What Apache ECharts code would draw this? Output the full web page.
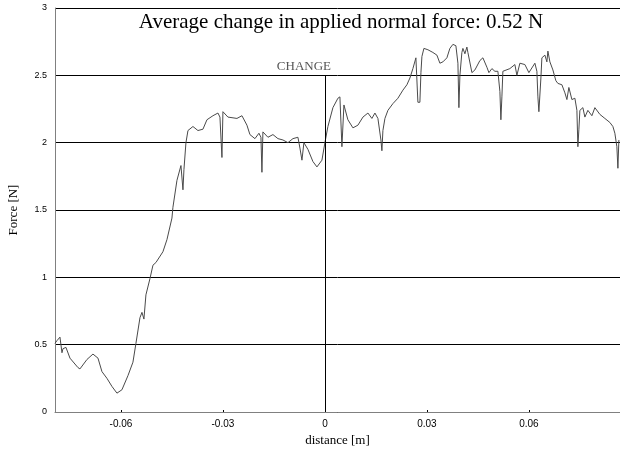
<!DOCTYPE html>
<html>
<head>
<meta charset="utf-8">
<script src="https://cdn.jsdelivr.net/npm/echarts@6/dist/echarts.min.js"></script>
<style>html,body{margin:0;padding:0;background:#fff}#c{width:620px;height:450px}</style>
</head>
<body>
<div id="c"></div>
<script>
var distance = [-0.07941,-0.07882,-0.07794,-0.07735,-0.07706,-0.07618,-0.07500,-0.07265,-0.07206,-0.07000,
-0.06824,-0.06676,-0.06559,-0.06412,-0.06265,-0.06118,-0.05971,-0.05794,-0.05647,-0.05559,
-0.05441,-0.05382,-0.05324,-0.05265,-0.05147,-0.05059,-0.04971,-0.04765,-0.04647,-0.04500,
-0.04471,-0.04353,-0.04235,-0.04176,-0.04147,-0.04088,-0.04029,-0.03882,-0.03735,-0.03588,
-0.03471,-0.03294,-0.03147,-0.03088,-0.03029,-0.03000,-0.02853,-0.02588,-0.02441,-0.02294,
-0.02206,-0.02059,-0.01941,-0.01882,-0.01853,-0.01824,-0.01676,-0.01529,-0.01382,-0.01235,
-0.01088,-0.00941,-0.00794,-0.00735,-0.00676,-0.00618,-0.00500,-0.00353,-0.00235,-0.00088,
0,0.00088,0.00235,0.00382,0.00441,0.00500,0.00559,0.00676,0.00824,0.00971,
0.01118,0.01265,0.01382,0.01471,0.01559,0.01647,0.01676,0.01706,0.01765,0.01853,
0.02000,0.02147,0.02294,0.02412,0.02500,0.02588,0.02676,0.02706,0.02735,0.02794,
0.02824,0.02853,0.02912,0.03029,0.03176,0.03294,0.03382,0.03471,0.03588,0.03676,
0.03765,0.03853,0.03912,0.03941,0.03971,0.04029,0.04059,0.04118,0.04176,0.04206,
0.04324,0.04412,0.04559,0.04647,0.04765,0.04824,0.04912,0.05000,0.05088,0.05147,
0.05176,0.05206,0.05235,0.05441,0.05588,0.05647,0.05735,0.05882,0.06000,0.06176,
0.06235,0.06265,0.06294,0.06353,0.06382,0.06471,0.06529,0.06559,0.06618,0.06706,
0.06794,0.06853,0.06971,0.07059,0.07118,0.07176,0.07265,0.07353,0.07412,0.07441,
0.07471,0.07500,0.07588,0.07647,0.07735,0.07853,0.07941,0.08088,0.08235,0.08382,
0.08471,0.08529,0.08588,0.08618,0.08647];
var force = [0.51,0.53,0.556,0.44,0.47,0.48,0.40,0.33,0.32,0.39,
0.43,0.40,0.30,0.25,0.19,0.14,0.165,0.27,0.37,0.51,
0.70,0.74,0.69,0.87,0.99,1.09,1.11,1.19,1.28,1.44,
1.52,1.72,1.83,1.65,1.80,2.00,2.09,2.12,2.09,2.10,
2.17,2.20,2.22,2.19,1.89,2.23,2.19,2.18,2.20,2.13,
2.06,2.03,2.07,2.04,1.78,2.08,2.04,2.06,2.03,2.02,
2.00,2.03,2.04,1.96,1.87,2.00,1.95,1.86,1.82,1.87,
2.00,2.12,2.26,2.33,2.34,1.97,2.28,2.17,2.11,2.13,
2.19,2.22,2.18,2.22,2.18,2.02,1.94,2.09,2.18,2.24,
2.29,2.33,2.39,2.43,2.48,2.55,2.63,2.64,2.30,2.30,
2.52,2.64,2.70,2.69,2.67,2.65,2.59,2.60,2.63,2.70,
2.73,2.72,2.59,2.26,2.50,2.67,2.70,2.66,2.71,2.67,
2.52,2.54,2.61,2.63,2.56,2.52,2.55,2.53,2.53,2.38,
2.17,2.34,2.53,2.55,2.58,2.50,2.59,2.58,2.52,2.59,
2.53,2.34,2.23,2.48,2.63,2.65,2.60,2.68,2.60,2.54,
2.46,2.44,2.43,2.37,2.32,2.41,2.32,2.33,2.24,1.97,
2.10,2.24,2.26,2.19,2.24,2.20,2.26,2.21,2.18,2.15,
2.12,2.07,1.97,1.81,2.02];
var xTicks = [-0.06, -0.03, 0, 0.03, 0.06];
var yTicks = [0, 0.5, 1, 1.5, 2, 2.5, 3];
var changeAt = 0;
var changeTop = 2.5;
var titleText = 'Average change in applied normal force: 0.52 N';

var pts = distance.map(function (d, i) { return [d, force[i]]; });
var chart = echarts.init(document.getElementById('c'), null, {renderer: 'canvas'});
chart.setOption({
  animation: false,
  backgroundColor: '#fff',
  title: {
    text: titleText,
    left: 336, textAlign: 'center', top: 7,
    textStyle: {fontFamily: 'Liberation Serif', fontSize: 21, fontWeight: 'normal', color: '#000'}
  },
  grid: {left: 55, right: 0, top: 8, bottom: 38, containLabel: false, outerBoundsMode: 'none'},
  xAxis: {
    type: 'value', min: -0.0794, max: 0.0868,
    name: 'distance [m]', nameLocation: 'middle', nameGap: 20,
    nameTextStyle: {fontFamily: 'Liberation Serif', fontSize: 13, color: '#000'},
    axisLine: {show: true, onZero: false, lineStyle: {color: '#808080', width: 1}},
    axisTick: {show: true, customValues: xTicks, length: 2, inside: true, lineStyle: {color: '#000'}},
    axisLabel: {customValues: xTicks, fontFamily: 'Liberation Sans', fontSize: 10, color: '#000', margin: 7,
      formatter: function (v) { return String(Math.round(v * 100) / 100); }},
    splitLine: {show: false}
  },
  yAxis: {
    type: 'value', min: 0, max: 3, interval: 0.5,
    name: 'Force [N]', nameLocation: 'middle', nameGap: 35, nameRotate: 90,
    nameTextStyle: {fontFamily: 'Liberation Serif', fontSize: 13, color: '#000'},
    axisLine: {show: true, onZero: false, lineStyle: {color: '#808080', width: 1}},
    axisTick: {show: false},
    axisLabel: {fontFamily: 'Liberation Sans', fontSize: 9, color: '#000', margin: 8,
      customValues: yTicks,
      formatter: function (v) { return String(v); }},
    splitLine: {show: true, lineStyle: {color: '#000', width: 1}}
  },
  series: [{
    type: 'line', data: pts, showSymbol: false, symbol: 'none',
    lineStyle: {color: '#4a4a4a', width: 1}, silent: true,
    markLine: {
      silent: true, symbol: ['none', 'none'],
      lineStyle: {color: '#000', width: 1, type: 'solid'},
      label: {show: true, position: 'end', formatter: 'CHANGE', distance: 2,
        fontFamily: 'Liberation Serif', fontSize: 13, color: '#555', padding: [0, 42, 0, 0]},
      data: [[{coord: [changeAt, 0]}, {coord: [changeAt, changeTop]}]]
    }
  }]
});
</script>
</body>
</html>
